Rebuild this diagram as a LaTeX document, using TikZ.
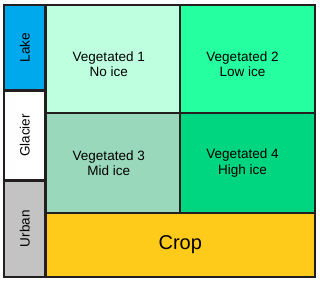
\documentclass[tikz,border=0pt]{standalone}
\usepackage{fontspec}
\setmainfont{Liberation Sans}
\usepackage{tikz}
\usetikzlibrary{positioning}

\definecolor{lakeblue}{HTML}{00A8EC}
\definecolor{vegone}{HTML}{BEFFE0}
\definecolor{vegtwo}{HTML}{26FFA0}
\definecolor{vegthree}{HTML}{99D8BB}
\definecolor{vegfour}{HTML}{00D680}
\definecolor{cropyellow}{HTML}{FFCB1B}
\definecolor{urbangray}{HTML}{C3C3C3}
\definecolor{edgedark}{HTML}{231F20}

\begin{document}
\begin{tikzpicture}[
    node distance=0pt,
    cell/.style={draw=edgedark, line width=2.2pt, rectangle, outer sep=0pt, inner sep=0pt},
    side/.style={cell, minimum width=41.5pt},
    tag/.style={font=\fontsize{13.5}{15.5}\selectfont, align=center, text=black}
]
    \useasboundingbox (0,0) rectangle (320pt,283pt);

    % left column
    \node[side, fill=lakeblue, minimum height=85.5pt, anchor=north west] (lake) at (4pt,278pt) {};
    \node[side, fill=white, minimum height=90pt, below=of lake] (glacier) {};
    \node[side, fill=urbangray, minimum height=96.5pt, below=of glacier] (urban) {};

    % vegetated cells
    \node[cell, fill=vegone, minimum width=134.5pt, minimum height=108pt, anchor=north west] (veg1) at (lake.north east) {};
    \node[cell, fill=vegtwo, minimum width=135pt, minimum height=108pt, right=of veg1] (veg2) {};
    \node[cell, fill=vegthree, minimum width=134.5pt, minimum height=100pt, below=of veg1] (veg3) {};
    \node[cell, fill=vegfour, minimum width=135pt, minimum height=100pt, below=of veg2] (veg4) {};
    \node[cell, fill=cropyellow, minimum width=269.5pt, minimum height=64pt, anchor=north west] (crop) at (veg3.south west) {};

    % labels
    \node[tag, rotate=90] (laketext) at (lake.center) {Lake};
    \node[tag, rotate=90] (glaciertext) at (glacier.center) {Glacier};
    \node[tag, rotate=90] (urbantext) at (urban.center) {Urban};
    \node[tag] (veg1text) at ([shift={(-4pt,-5pt)}]veg1.center) {Vegetated 1\\No ice};
    \node[tag] (veg2text) at ([shift={(-5pt,-5pt)}]veg2.center) {Vegetated 2\\Low ice};
    \node[tag] (veg3text) at ([shift={(-4pt,0pt)}]veg3.center) {Vegetated 3\\Mid ice};
    \node[tag] (veg4text) at ([shift={(-5pt,0pt)}]veg4.center) {Vegetated 4\\High ice};
    \node[tag, font=\fontsize{20}{24}\selectfont] (croptext) at (crop.center) {Crop};
\end{tikzpicture}
\end{document}
